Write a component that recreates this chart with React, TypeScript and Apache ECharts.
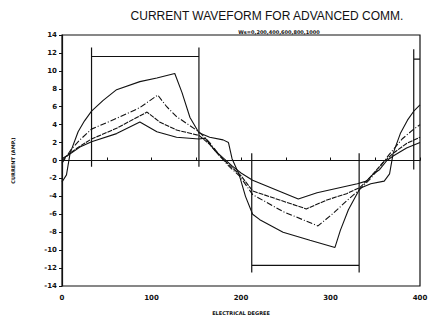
import React, { useEffect, useRef } from "react";
import * as echarts from "echarts";

const titleText = "CURRENT WAVEFORM FOR ADVANCED COMM.";
const subtitleText = "Ws=0,200,400,600,800,1000";
const xAxisName = "ELECTRICAL DEGREE";
const yAxisName = "CURRENT (AMP.)";

// Curve A (largest)
const curveA: [number, number][] = [
  [0, -2.4], [5, -1.6], [9, 0.8], [18, 3.2], [25, 4.4], [33, 5.5], [46, 6.7], [61, 7.9],
  [87, 8.8], [106, 9.2], [126, 9.7], [134, 7.6], [143, 4.8], [153, 3.1], [165, 2.6],
  [180, 2.3], [186, 2.0], [190, 0.2], [198, -1.6], [205, -4.0], [213, -6.0], [221, -6.6],
  [247, -8.0], [277, -8.9], [305, -9.7], [311, -7.8], [320, -5.5], [333, -3.1],
  [345, -2.6], [360, -2.3], [366, -1.5], [370, 0.8], [378, 3.0], [386, 4.5], [393, 5.5], [400, 6.2],
];
// Curve B
const curveB: [number, number][] = [
  [0, -0.3], [10, 1.2], [20, 2.3], [33, 3.5], [61, 4.7], [87, 5.9], [107, 7.3], [117, 6.0],
  [128, 4.9], [153, 3.2], [165, 2.0], [176, 0.6], [185, -0.5], [199, -1.8], [213, -3.8],
  [247, -5.7], [286, -7.3], [303, -5.9], [318, -4.5], [333, -3.2], [345, -2.0], [356, -0.6],
  [365, 0.6], [380, 2.4], [393, 3.5], [400, 4.0],
];
// Curve C
const curveC: [number, number][] = [
  [0, 0], [10, 0.9], [20, 1.6], [33, 2.4], [61, 3.6], [95, 5.4], [109, 4.3], [128, 3.4],
  [153, 2.8], [165, 1.8], [176, 0.5], [188, -0.6], [200, -1.7], [213, -3.4], [273, -5.4],
  [296, -4.4], [318, -3.7], [333, -3.0], [345, -1.8], [358, -0.3], [370, 0.8], [385, 1.9], [400, 2.6],
];
// Curve D (lowest)
const curveD: [number, number][] = [
  [0, 0.2], [10, 0.8], [20, 1.5], [33, 2.1], [61, 3.0], [87, 4.3], [106, 3.2], [128, 2.6],
  [153, 2.4], [160, 2.5], [167, 1.6], [172, 1.0], [180, 0.3], [190, -0.6], [200, -1.4],
  [213, -2.2], [264, -4.3], [285, -3.6], [330, -2.6], [340, -2.3], [348, -1.5], [355, -1.0],
  [363, 0], [370, 0.5], [385, 1.4], [400, 2.0],
];

// Commutation brackets
const bracket1: [number, number][] = [[33, -0.7], [33, 12.6], [33, 11.6], [153, 11.6], [153, 12.6], [153, -0.7]];
const bracket2: [number, number][] = [[212, 0.8], [212, -12.5], [212, -11.7], [332, -11.7], [332, -12.5], [332, 0.8]];
const bracket3: [number, number][] = [[393, -1.0], [393, 12.4], [393, 11.3], [400, 11.3]];
const zeroLine: [number, number][] = [[0, 0], [400, 0]];

export default function App() {
  const ref = useRef<HTMLDivElement>(null);
  useEffect(() => {
    if (!ref.current) return;
    const chart = echarts.init(ref.current, null, { renderer: "svg" });
    const lbl = { fontFamily: "DejaVu Sans", fontWeight: "bold" as const, fontSize: 7, color: "#111" };
    const line = (data: [number, number][], type: any, width = 1.1) => ({
      type: "line",
      data,
      showSymbol: false,
      symbol: "none",
      silent: true,
      lineStyle: { color: "#111", width, type },
    });
    chart.setOption({
      animation: false,
      backgroundColor: "#fff",
      title: [
        {
          text: titleText,
          left: 262,
          top: 5,
          textAlign: "center",
          textStyle: { fontFamily: "Liberation Sans", fontWeight: "normal", fontSize: 12, color: "#111" },
        },
        {
          text: subtitleText,
          left: 274,
          top: 24,
          textAlign: "center",
          textStyle: { fontFamily: "DejaVu Sans", fontWeight: "bold", fontSize: 5, color: "#111" },
        },
      ],
      grid: { left: 62, right: 14, top: 35, bottom: 35, show: true, borderColor: "#111", borderWidth: 1.2 },
      xAxis: {
        type: "value",
        min: 0,
        max: 400,
        interval: 50,
        name: xAxisName,
        nameLocation: "middle",
        nameGap: 24,
        nameTextStyle: { fontFamily: "DejaVu Sans", fontWeight: "bold", fontSize: 5, color: "#111" },
        axisLine: { lineStyle: { color: "#111", width: 1.2 } },
        axisTick: { inside: true, length: 3, lineStyle: { color: "#111" } },
        axisLabel: {
          ...lbl,
          margin: 8,
          formatter: (v: number) => (v % 100 === 0 ? String(v) : ""),
        },
        splitLine: { show: false },
      },
      yAxis: {
        type: "value",
        min: -14,
        max: 14,
        interval: 2,
        name: yAxisName,
        nameLocation: "middle",
        nameGap: 47,
        nameTextStyle: { fontFamily: "DejaVu Sans", fontWeight: "bold", fontSize: 5, color: "#111" },
        axisLine: { lineStyle: { color: "#111", width: 1.2 } },
        axisTick: { length: 3, lineStyle: { color: "#111" } },
        axisLabel: { ...lbl, margin: 5 },
        splitLine: { show: false },
      },
      series: [
        line(zeroLine, [3, 2], 1),
        line(bracket1, "solid", 1.2),
        line(bracket2, "solid", 1.2),
        line(bracket3, "solid", 1.2),
        line(curveA, "solid"),
        line(curveB, [6, 2, 1, 2]),
        line(curveC, [5, 1]),
        line(curveD, "solid"),
      ],
    });
    return () => chart.dispose();
  }, []);
  return <div ref={ref} style={{ width: 434, height: 321, position: "absolute", left: 0, top: 0 }} />;
}
